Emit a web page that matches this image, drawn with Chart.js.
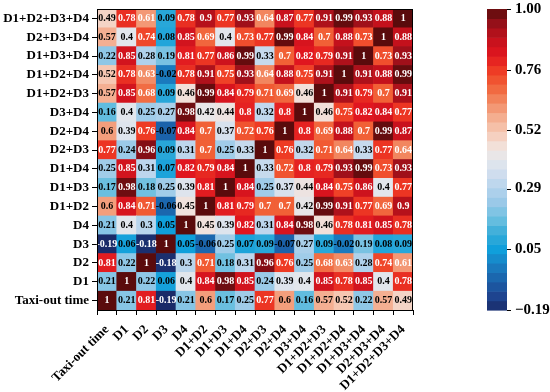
<!DOCTYPE html>
<html>
<head>
<meta charset="utf-8">
<script src="https://cdn.jsdelivr.net/npm/chart.js@4"></script>
<style>
  html, body { margin: 0; padding: 0; background: #fff; }
  canvas { display: block; }
</style>
</head>
<body>
<canvas id="heatmap" width="550" height="392"></canvas>
<script>
// column / row names (rows listed bottom to top)
const names = ["Taxi-out time", "D1", "D2", "D3", "D4", "D1+D2", "D1+D3", "D1+D4",
  "D2+D3", "D2+D4", "D3+D4", "D1+D2+D3", "D1+D2+D4", "D1+D3+D4", "D2+D3+D4", "D1+D2+D3+D4"];

// one array per row, values in column order
const rowTaxi   = [1, 0.21, 0.81, -0.19, 0.21, 0.6, 0.17, 0.25, 0.77, 0.6, 0.16, 0.57, 0.52, 0.22, 0.57, 0.49];
const rowD1     = [0.21, 1, 0.22, 0.06, 0.4, 0.84, 0.98, 0.85, 0.24, 0.39, 0.4, 0.85, 0.78, 0.85, 0.4, 0.78];
const rowD2     = [0.81, 0.22, 1, -0.18, 0.3, 0.71, 0.18, 0.31, 0.96, 0.76, 0.25, 0.68, 0.63, 0.28, 0.74, 0.61];
const rowD3     = [-0.19, 0.06, -0.18, 1, 0.05, -0.06, 0.25, 0.07, 0.09, -0.07, 0.27, 0.09, -0.02, 0.19, 0.08, 0.09];
const rowD4     = [0.21, 0.4, 0.3, 0.05, 1, 0.45, 0.39, 0.82, 0.31, 0.84, 0.98, 0.46, 0.78, 0.81, 0.85, 0.78];
const rowD12    = [0.6, 0.84, 0.71, -0.06, 0.45, 1, 0.81, 0.79, 0.7, 0.7, 0.42, 0.99, 0.91, 0.77, 0.69, 0.9];
const rowD13    = [0.17, 0.98, 0.18, 0.25, 0.39, 0.81, 1, 0.84, 0.25, 0.37, 0.44, 0.84, 0.75, 0.86, 0.4, 0.77];
const rowD14    = [0.25, 0.85, 0.31, 0.07, 0.82, 0.79, 0.84, 1, 0.33, 0.72, 0.8, 0.79, 0.93, 0.99, 0.73, 0.93];
const rowD23    = [0.77, 0.24, 0.96, 0.09, 0.31, 0.7, 0.25, 0.33, 1, 0.76, 0.32, 0.71, 0.64, 0.33, 0.77, 0.64];
const rowD24    = [0.6, 0.39, 0.76, -0.07, 0.84, 0.7, 0.37, 0.72, 0.76, 1, 0.8, 0.69, 0.88, 0.7, 0.99, 0.87];
const rowD34    = [0.16, 0.4, 0.25, 0.27, 0.98, 0.42, 0.44, 0.8, 0.32, 0.8, 1, 0.46, 0.75, 0.82, 0.84, 0.77];
const rowD123   = [0.57, 0.85, 0.68, 0.09, 0.46, 0.99, 0.84, 0.79, 0.71, 0.69, 0.46, 1, 0.91, 0.79, 0.7, 0.91];
const rowD124   = [0.52, 0.78, 0.63, -0.02, 0.78, 0.91, 0.75, 0.93, 0.64, 0.88, 0.75, 0.91, 1, 0.91, 0.88, 0.99];
const rowD134   = [0.22, 0.85, 0.28, 0.19, 0.81, 0.77, 0.86, 0.99, 0.33, 0.7, 0.82, 0.79, 0.91, 1, 0.73, 0.93];
const rowD234   = [0.57, 0.4, 0.74, 0.08, 0.85, 0.69, 0.4, 0.73, 0.77, 0.99, 0.84, 0.7, 0.88, 0.73, 1, 0.88];
const rowD1234  = [0.49, 0.78, 0.61, 0.09, 0.78, 0.9, 0.77, 0.93, 0.64, 0.87, 0.77, 0.91, 0.99, 0.93, 0.88, 1];

const matrix = [rowTaxi, rowD1, rowD2, rowD3, rowD4, rowD12, rowD13, rowD14,
  rowD23, rowD24, rowD34, rowD123, rowD124, rowD134, rowD234, rowD1234];

const cbTicks = [-0.19, 0.05, 0.29, 0.52, 0.76, 1.00];
const vMin = -0.19, vMax = 1.0;

// colour map stops (value, hex)
const stops = [
  [-0.19, "#1a2a68"], [-0.13, "#1e4692"], [-0.07, "#1b62aa"], [-0.01, "#1a7fc2"],
  [0.05, "#0f9fdb"], [0.11, "#35abd8"], [0.17, "#6abfe0"], [0.23, "#96c8e7"],
  [0.29, "#b4d3ec"], [0.35, "#cfddee"], [0.41, "#e6e8ec"], [0.46, "#f2e0d9"],
  [0.52, "#f6c7b2"], [0.58, "#f4aa8b"], [0.64, "#f2865f"], [0.70, "#f16036"],
  [0.76, "#ee3b24"], [0.82, "#e0161f"], [0.88, "#c4111c"], [0.94, "#99101a"],
  [1.00, "#5a0b0c"]
];

function hexRgb(h) {
  return [parseInt(h.slice(1, 3), 16), parseInt(h.slice(3, 5), 16), parseInt(h.slice(5, 7), 16)];
}

function colorFor(v) {
  if (v <= stops[0][0]) return stops[0][1];
  for (let i = 1; i < stops.length; i++) {
    if (v <= stops[i][0]) {
      const t = (v - stops[i - 1][0]) / (stops[i][0] - stops[i - 1][0]);
      const a = hexRgb(stops[i - 1][1]), b = hexRgb(stops[i][1]);
      const c = a.map((x, k) => Math.round(x + (b[k] - x) * t));
      return "rgb(" + c.join(",") + ")";
    }
  }
  return stops[stops.length - 1][1];
}

const serif = "'Liberation Serif', 'Times New Roman', serif";

const datasets = matrix.map((row, r) => ({
  label: names[r],
  data: row.map(() => [r, r + 1]),
  backgroundColor: row.map(v => colorFor(v)),
  borderWidth: 0,
  barPercentage: 1,
  categoryPercentage: 1
}));

// numbers in each cell
const cellText = {
  id: "cellText",
  afterDatasetsDraw(chart) {
    const ctx = chart.ctx;
    ctx.save();
    ctx.font = "bold 10px " + serif;
    ctx.textAlign = "center";
    ctx.textBaseline = "middle";
    chart.data.datasets.forEach((ds, r) => {
      chart.getDatasetMeta(r).data.forEach((el, c) => {
        const v = matrix[r][c];
        ctx.fillStyle = (v > 0.6 || v < -0.1) ? "#fff" : "#000";
        ctx.fillText(String(v), el.x, (el.y + el.base) / 2);
      });
    });
    ctx.restore();
  }
};

// frame + colour bar
const colorBar = {
  id: "colorBar",
  afterDraw(chart) {
    const ctx = chart.ctx;
    const a = chart.chartArea;
    ctx.save();
    ctx.strokeStyle = "#000";
    ctx.lineWidth = 1;
    ctx.strokeRect(a.left + 0.5, a.top + 0.5, a.right - a.left - 1, a.bottom - a.top);

    const s = chart.scales.cb;
    const n = 32, x0 = 487, w = 20;
    for (let i = 0; i < n; i++) {
      const v0 = vMin + (vMax - vMin) * i / n;
      const v1 = vMin + (vMax - vMin) * (i + 1) / n;
      const yTop = s.getPixelForValue(v1), yBot = s.getPixelForValue(v0);
      ctx.fillStyle = colorFor((v0 + v1) / 2);
      ctx.fillRect(x0, yTop, w, yBot - yTop + 0.6);
    }
    ctx.strokeStyle = "#000";
    cbTicks.forEach(v => {
      const y = Math.round(s.getPixelForValue(v)) + 0.5;
      ctx.beginPath();
      ctx.moveTo(x0 + w, y);
      ctx.lineTo(x0 + w + 4, y);
      ctx.stroke();
    });
    ctx.restore();
  }
};

new Chart(document.getElementById("heatmap"), {
  type: "bar",
  data: { labels: names, datasets: datasets },
  options: {
    responsive: false,
    animation: false,
    devicePixelRatio: 1,
    layout: { padding: { top: 9 } },
    plugins: { legend: { display: false }, tooltip: { enabled: false } },
    datasets: { bar: { grouped: false } },
    scales: {
      x: {
        type: "category",
        grid: { drawOnChartArea: false, drawTicks: true, tickLength: 5, color: "#000" },
        border: { display: true, color: "#000", width: 1 },
        ticks: {
          autoSkip: false, minRotation: 45, maxRotation: 45, padding: 7, color: "#000",
          font: { family: serif, weight: "bold", size: 13 }
        },
        afterFit: s => { s.height = 82; s.paddingLeft = 0; s.paddingRight = 0; }
      },
      y: {
        type: "linear", min: 0, max: 16,
        afterBuildTicks: s => { s.ticks = names.map((_, i) => ({ value: i + 0.5 })); },
        grid: { drawOnChartArea: false, drawTicks: true, tickLength: 5, color: "#000" },
        border: { display: true, color: "#000", width: 1 },
        ticks: {
          autoSkip: false, padding: 3, color: "#000",
          font: { family: serif, weight: "bold", size: 13 },
          callback: v => names[Math.floor(v)]
        },
        afterFit: s => { s.width = 97; s.paddingTop = 0; s.paddingBottom = 0; }
      },
      cb: {
        type: "linear", position: "right", min: vMin, max: vMax,
        afterBuildTicks: s => { s.ticks = cbTicks.map(v => ({ value: v })); },
        grid: { display: false, drawTicks: false },
        border: { display: false },
        ticks: {
          autoSkip: false, padding: 102, color: "#000",
          font: { family: serif, weight: "bold", size: 15 },
          callback: v => (v < 0 ? "\u2212" + Math.abs(v).toFixed(2) : v.toFixed(2))
        },
        afterFit: s => { s.width = 137; s.paddingTop = 0; s.paddingBottom = 0; }
      }
    }
  },
  plugins: [cellText, colorBar]
});
</script>
</body>
</html>
